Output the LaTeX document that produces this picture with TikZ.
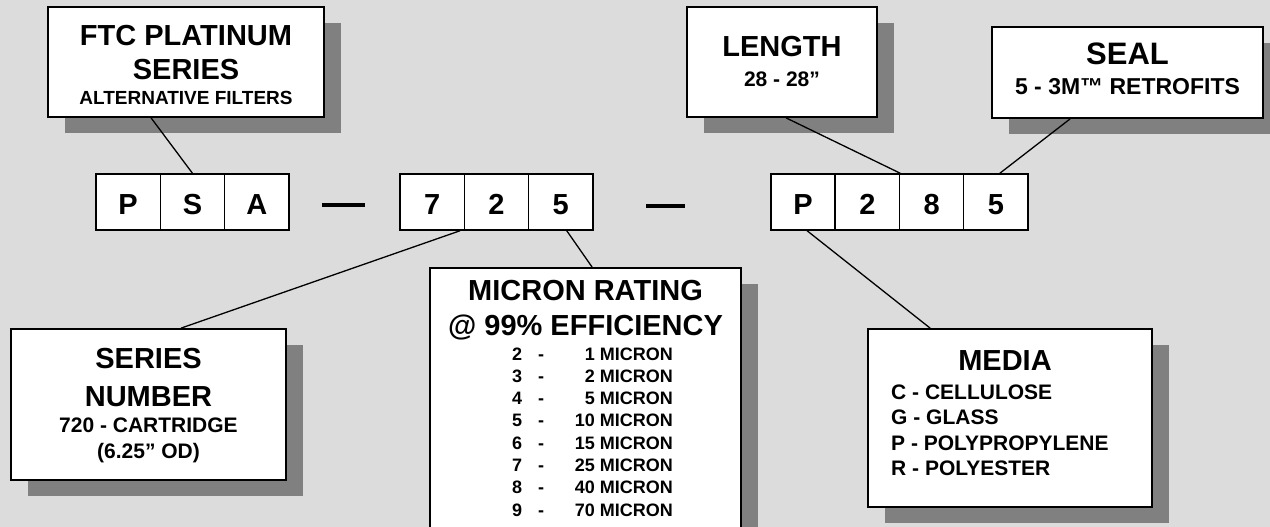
\documentclass[tikz,border=0pt]{standalone}
\usepackage{fontspec}
\setmainfont{Liberation Sans}
\usetikzlibrary{shadows}
\definecolor{bg}{RGB}{220,220,220}
\definecolor{shd}{RGB}{128,128,128}
\begin{document}
\begin{tikzpicture}[x=1pt,y=-1pt,
  box/.style={draw, line width=1.8pt, fill=white, inner sep=0pt,
    drop shadow={shadow xshift=16.5pt, shadow yshift=-16pt, fill=shd, opacity=1}},
  cell/.style={draw, line width=1.5pt, fill=white, inner sep=0pt,
    minimum width=64.3pt, minimum height=56pt, text height=25pt, text depth=0pt,
    font=\fontsize{29}{34}\selectfont\bfseries},
  conn/.style={line width=1.3pt},
  rulebar/.style={line width=4pt},
  tbig/.style={font=\fontsize{29}{34}\selectfont\bfseries, inner sep=0pt, anchor=base},
  tmid/.style={font=\fontsize{21}{25}\selectfont\bfseries, inner sep=0pt, anchor=base},
  tsmall/.style={font=\fontsize{18}{22}\selectfont\bfseries, inner sep=0pt, anchor=base}]
\clip (0,0) rectangle (1270,527);
\fill[bg] (0,0) rectangle (1270,527);

% upper boxes
\node[box, minimum width=276pt, minimum height=110pt] (ftc) at (186,62) {};
\node[tbig] (ftc1) at (186,46) {FTC PLATINUM};
\node[tbig] (ftc2) at (186,80) {SERIES};
\node[tsmall, font=\fontsize{19}{22}\selectfont\bfseries] (ftc3) at (186,105) {ALTERNATIVE FILTERS};

\node[box, minimum width=190pt, minimum height=110pt] (len) at (782,62) {};
\node[tbig] (len1) at (782,57) {LENGTH};
\node[tmid] (len2) at (782,87) {28 - 28”};

\node[box, minimum width=271pt, minimum height=91pt] (seal) at (1127.5,72.5) {};
\node[tbig, font=\fontsize{31}{36}\selectfont\bfseries] (seal1) at (1127.5,65) {SEAL};
\node[tmid, font=\fontsize{23}{27}\selectfont\bfseries] (seal2) at (1127.5,95) {5 - 3M™ RETROFITS};

% code cells
\node[cell] (cP) at (128.15,202) {P};
\node[cell] (cS) at (192.45,202) {S};
\node[cell] (cA) at (256.75,202) {A};
\node[cell] (c7) at (432.15,202) {7};
\node[cell] (c2) at (496.45,202) {2};
\node[cell] (c5) at (560.75,202) {5};
\node[cell] (dP) at (803.1,202) {P};
\node[cell] (d2) at (867.35,202) {2};
\node[cell] (d8) at (931.6,202) {8};
\node[cell] (d5) at (995.85,202) {5};
\draw[rulebar] (322,205) -- (365,205);
\draw[rulebar] (646,206) -- (685,206);

% lower boxes
\node[box, minimum width=275pt, minimum height=151pt] (ser) at (148.5,404.5) {};
\node[tbig] (ser1) at (148.5,368) {SERIES};
\node[tbig] (ser2) at (148.5,406) {NUMBER};
\node[tmid] (ser3) at (148.5,432) {720 - CARTRIDGE};
\node[tmid] (ser4) at (148.5,458) {(6.25” OD)};

\node[box, minimum width=311pt, minimum height=277pt] (mic) at (585.5,406.5) {};
\node[tbig] (mic1) at (585.5,300) {MICRON RATING};
\node[tbig] (mic2) at (585.5,335) {@ 99\% EFFICIENCY};
\foreach \d/\v [count=\i from 0] in {2/1,3/2,4/5,5/10,6/15,7/25,8/40,9/70} {
  \node[tsmall, anchor=base west] (md\i) at (512,{360+22.3*\i}) {\d};
  \node[tsmall] (mh\i) at (541,{360+22.3*\i}) {-};
  \node[tsmall, anchor=base east] (mv\i) at (673,{360+22.3*\i}) {\v\ MICRON};
}

\node[box, minimum width=284pt, minimum height=178pt] (med) at (1010,418) {};
\node[tbig] (med1) at (1005,370) {MEDIA};
\foreach \t [count=\i from 0] in {C - CELLULOSE, G - GLASS, P - POLYPROPYLENE, R - POLYESTER} {
  \node[tmid, anchor=base west] (mt\i) at (891,{399+25.5*\i}) {\t};
}

% connectors
\draw[conn] ([xshift=104pt]ftc.south west) -- (cS.north);
\draw[conn] ([xshift=100pt]len.south west) -- (d2.north east);
\draw[conn] ([xshift=79pt]seal.south west) -- ([xshift=4pt]d5.north);
\draw[conn] ([xshift=-5pt]c7.south east) -- ([xshift=171pt]ser.north west);
\draw[conn] ([xshift=6pt]c5.south) -- ([xshift=163pt]mic.north west);
\draw[conn] ([xshift=4pt]dP.south) -- ([xshift=63pt]med.north west);
\end{tikzpicture}
\end{document}
